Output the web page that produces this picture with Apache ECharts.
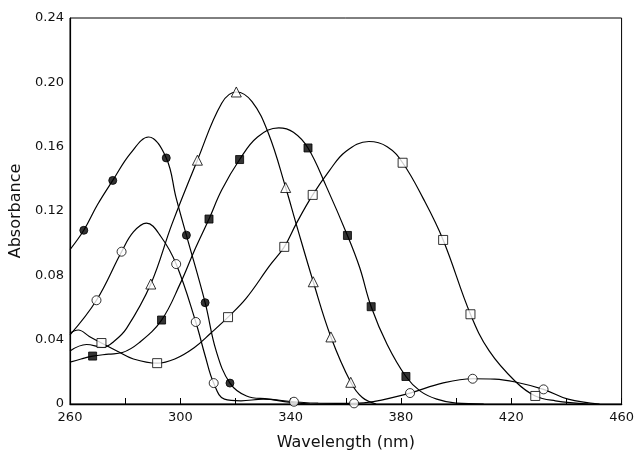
<!DOCTYPE html>
<html>
<head>
<meta charset="utf-8">
<title>Absorbance spectra</title>
<script src="https://cdn.jsdelivr.net/npm/echarts/dist/echarts.min.js"></script>
<style>
  html, body { margin: 0; padding: 0; background: #fff; }
  #main { width: 637px; height: 456px; }
</style>
</head>
<body>
<div id="main"></div>
<script>
// traces: [wavelength nm, absorbance]
var filledCircleCurve = [[260, 0.096], [265, 0.108], [270, 0.124], [275.5, 0.139], [282, 0.156], [288.5, 0.166], [294.9, 0.153], [298.5, 0.128], [302.2, 0.105], [309, 0.063], [313, 0.033], [318, 0.013], [324, 0.005], [332, 0.003], [340, 0.001], [347, 0]];
var filledCircleMarks = [[265, 0.108], [275.5, 0.139], [294.9, 0.153], [302.2, 0.105], [309, 0.063], [318, 0.013]];

var openCircleCurve = [[260, 0.043], [269.6, 0.0645], [278.7, 0.0947], [283, 0.107], [287.7, 0.1125], [293, 0.104], [298.5, 0.087], [305.6, 0.051], [309, 0.03], [312.1, 0.013], [316, 0.003], [322, 0.002], [330, 0.003], [341.2, 0.0014], [350, 0.0005], [363, 0.0004], [370, 0.0015], [383.3, 0.0068], [395, 0.013], [406, 0.0157], [414, 0.0155], [421.5, 0.0137], [431.7, 0.0091], [440.6, 0.003], [452, 0]];
var openCircleMarks = [[269.6, 0.0645], [278.7, 0.0947], [298.5, 0.087], [305.6, 0.051], [312.1, 0.013], [341.2, 0.0014], [363, 0.0004], [383.3, 0.0068], [406, 0.0157], [431.7, 0.0091]];

var triangleCurve = [[260, 0.033], [266, 0.037], [272, 0.0353], [276, 0.039], [280.5, 0.047], [289.3, 0.0746], [297, 0.112], [306.2, 0.1516], [315, 0.187], [320.3, 0.194], [326, 0.188], [332, 0.168], [338.2, 0.1346], [342, 0.112], [348.2, 0.076], [354.6, 0.0417], [361.8, 0.0135], [366, 0.004], [371, 0]];
var triangleMarks = [[289.3, 0.0746], [306.2, 0.1516], [320.3, 0.194], [338.2, 0.1346], [348.2, 0.076], [354.6, 0.0417], [361.8, 0.0135]];

var filledSquareCurve = [[260, 0.026], [264, 0.028], [268.2, 0.0298], [274, 0.031], [279, 0.032], [285, 0.038], [293.2, 0.0522], [300, 0.075], [305, 0.095], [310.4, 0.115], [315, 0.133], [321.5, 0.152], [328, 0.166], [335.7, 0.1717], [341, 0.169], [346.3, 0.1592], [353, 0.135], [360.6, 0.1048], [365, 0.085], [369.2, 0.0605], [375, 0.037], [381.8, 0.0171], [387, 0.008], [393, 0.003], [400, 0.0005], [410, 0]];
var filledSquareMarks = [[268.2, 0.0298], [293.2, 0.0522], [310.4, 0.115], [321.5, 0.152], [346.3, 0.1592], [360.6, 0.1048], [369.2, 0.0605], [381.8, 0.0171]];

var openSquareCurve = [[260, 0.044], [263, 0.046], [267, 0.042], [271.4, 0.0379], [277, 0.033], [283, 0.028], [291.6, 0.0254], [298, 0.028], [305, 0.035], [311, 0.044], [317.3, 0.054], [324, 0.066], [332.4, 0.086], [337.7, 0.0977], [342, 0.112], [348, 0.13], [354, 0.145], [360, 0.157], [368.4, 0.1632], [375, 0.16], [380.6, 0.15], [388, 0.128], [395.3, 0.102], [405.2, 0.0558], [412, 0.033], [421.5, 0.014], [428.7, 0.005], [436, 0.002], [448, 0]];
var openSquareMarks = [[271.4, 0.0379], [291.6, 0.0254], [317.3, 0.054], [337.7, 0.0977], [348, 0.13], [380.6, 0.15], [395.3, 0.102], [405.2, 0.0558], [428.7, 0.005]];

var font = 'DejaVu Sans';

function trace(curve, marks, symbol, size, filled) {
  return [
    {
      type: 'line',
      data: curve,
      smooth: 0.4,
      showSymbol: false,
      lineStyle: { color: '#000', width: 1.2 },
      z: 2
    },
    {
      type: 'scatter',
      data: marks,
      symbol: symbol,
      symbolSize: size,
      itemStyle: { color: filled ? '#000' : '#fff', borderColor: '#000', borderWidth: 1 },
      z: 3
    }
  ];
}

const chart = echarts.init(document.getElementById('main'));
chart.setOption({
  animation: false,
  backgroundColor: '#fff',
  grid: {
    left: 66,
    right: 13,
    top: 18,
    bottom: 41,
    show: true,
    borderColor: '#000',
    borderWidth: 1
  },
  xAxis: {
    type: 'value',
    min: 260,
    max: 460,
    interval: 40,
    name: 'Wavelength (nm)',
    nameLocation: 'middle',
    nameGap: 31,
    nameTextStyle: { fontFamily: font, fontSize: 16, color: '#111' },
    axisLine: { lineStyle: { color: '#000', width: 1.4 } },
    axisTick: { inside: true, length: 6, lineStyle: { color: '#000' } },
    minorTick: { show: true, splitNumber: 2, length: 6, lineStyle: { color: '#000' } },
    axisLabel: { fontFamily: font, fontSize: 13, color: '#111', margin: 7 },
    splitLine: { show: false }
  },
  yAxis: {
    type: 'value',
    min: 0,
    max: 0.24,
    interval: 0.04,
    name: 'Absorbance',
    nameLocation: 'middle',
    nameGap: 46,
    nameTextStyle: { fontFamily: font, fontSize: 16, color: '#111' },
    axisLine: { show: true, lineStyle: { color: '#000', width: 1.2 } },
    axisTick: { show: false },
    axisLabel: {
      fontFamily: font,
      fontSize: 13,
      color: '#111',
      margin: 6,
      formatter: function (v) { return v === 0 ? '0' : v.toFixed(2); }
    },
    splitLine: { show: false }
  },
  series: [].concat(
    trace(filledCircleCurve, filledCircleMarks, 'circle', 8, true),
    trace(openCircleCurve, openCircleMarks, 'circle', 9, false),
    trace(triangleCurve, triangleMarks, 'triangle', 10, false),
    trace(filledSquareCurve, filledSquareMarks, 'rect', 8, true),
    trace(openSquareCurve, openSquareMarks, 'rect', 9, false)
  )
});
</script>
</body>
</html>
